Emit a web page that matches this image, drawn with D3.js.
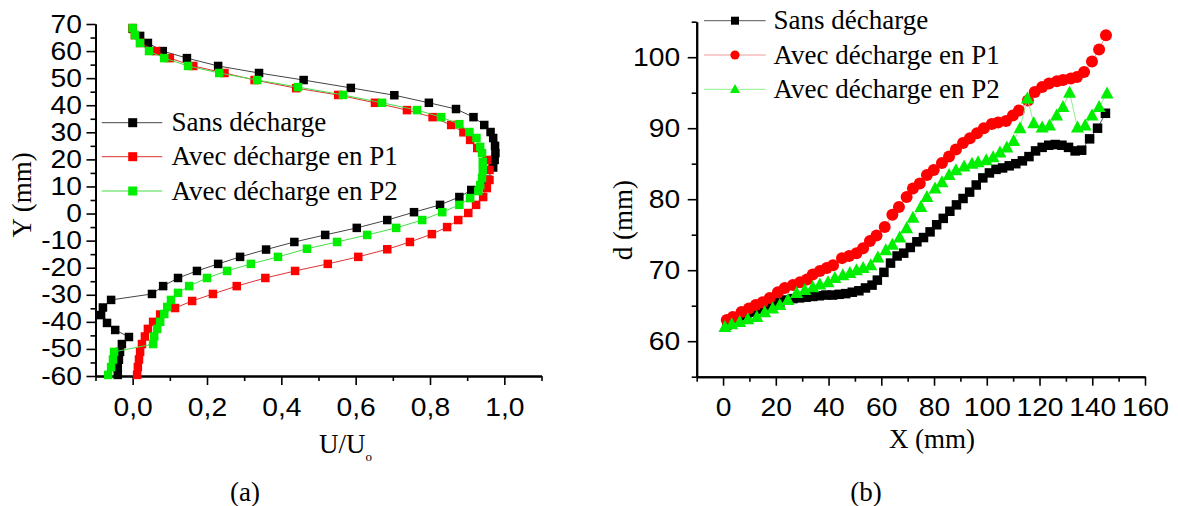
<!DOCTYPE html>
<html>
<head>
<meta charset="utf-8">
<script src="https://cdn.jsdelivr.net/npm/d3@7"></script>
<style>
  html, body { margin: 0; padding: 0; background: #fff; }
  svg { display: block; }
  .tick text { font-family: "Liberation Sans", Arial, sans-serif; font-size: 25px; fill: #000; }
  .serif { font-family: "Liberation Serif", "Times New Roman", serif; fill: #000; }
</style>
</head>
<body>
<svg id="chart" width="1178" height="506"></svg>
<script>
// ---------- DATA: panel (a) U/Uo vs Y (mm) ----------
const seriesNames = ["Sans décharge", "Avec décharge en P1", "Avec décharge en P2"];

const sansA = [[0.0,68.2],[0.02,65.6],[0.041,63],[0.081,60],[0.146,57.4],[0.23,54.5],[0.34,51.9],[0.46,49.3],[0.587,46.4],[0.704,43.7],[0.797,40.9],[0.87,38.6],[0.917,35.6],[0.946,32.7],[0.963,30.1],[0.97,27.9],[0.975,25],[0.976,22.3],[0.974,19.8],[0.97,17],[0.955,12.5],[0.911,8.7],[0.879,6.1],[0.827,3.2],[0.757,0.5],[0.685,-2.4],[0.603,-5.3],[0.518,-7.9],[0.435,-10.5],[0.359,-13.3],[0.289,-16],[0.23,-18.6],[0.173,-21.2],[0.122,-23.8],[0.082,-26.8],[0.052,-29.7],[-0.058,-31.9],[-0.08,-34.7],[-0.085,-37.5],[-0.069,-40.4],[-0.047,-43],[-0.01,-45.6],[-0.029,-48.2],[-0.034,-51.1],[-0.037,-54],[-0.04,-57],[-0.04,-59.6]];

const p1A = [[0.0,68.5],[0.006,65.9],[0.02,63],[0.063,60],[0.1,57.4],[0.163,54.5],[0.247,51.9],[0.328,49.3],[0.44,46.3],[0.553,43.8],[0.652,40.9],[0.738,38.2],[0.807,35.6],[0.857,32.7],[0.89,30],[0.908,27.2],[0.927,24.2],[0.954,19.8],[0.96,16.1],[0.96,12.4],[0.953,9.4],[0.943,6.1],[0.924,3.2],[0.903,0.2],[0.876,-2.4],[0.846,-5],[0.805,-7.6],[0.746,-10.5],[0.685,-13.2],[0.607,-16],[0.525,-18.6],[0.437,-21.2],[0.357,-23.8],[0.28,-26.8],[0.216,-29.7],[0.16,-32.3],[0.114,-34.9],[0.074,-37.3],[0.055,-40],[0.041,-42.6],[0.033,-45.4],[0.025,-48.2],[0.02,-51.1],[0.017,-53.9],[0.014,-56.7],[0.012,-59.6]];

const p2A = [[0.0,68.5],[0.006,65.9],[0.02,63],[0.044,60],[0.085,57.4],[0.149,54.5],[0.233,51.9],[0.335,49.3],[0.445,46.7],[0.566,43.8],[0.671,40.9],[0.765,38.2],[0.83,35.6],[0.879,33],[0.906,30.1],[0.925,27.9],[0.935,24.6],[0.94,22.3],[0.942,19],[0.942,16.1],[0.94,13.1],[0.935,10.5],[0.93,8.3],[0.908,5.7],[0.879,3.2],[0.833,0.5],[0.779,-2.4],[0.709,-5.3],[0.631,-7.9],[0.55,-10.5],[0.469,-13],[0.391,-16],[0.318,-18.6],[0.254,-21.2],[0.2,-23.8],[0.152,-26.8],[0.122,-29.3],[0.103,-31.9],[0.093,-34.5],[0.085,-37.1],[0.074,-40],[0.066,-42.6],[0.058,-45.4],[0.055,-48.2],[-0.05,-51.1],[-0.053,-53.9],[-0.058,-56.7],[-0.066,-59.6]];

// ---------- DATA: panel (b) X (mm) vs d (mm) ----------
const sansB = [[1.5,62.3],[4,62.8],[6.5,63.2],[9,63.7],[11.5,64.1],[14,64.5],[16.5,64.9],[19,65.2],[21.5,65.5],[24,65.8],[26.5,66],[29,66.1],[31.5,66.2],[34,66.3],[36.5,66.4],[39,66.5],[41.5,66.5],[44,66.6],[46.5,66.7],[49,66.9],[51.5,67.1],[54,67.5],[56.5,67.9],[58.5,68.6],[61,69.7],[63.5,71],[66,72],[68.5,72.4],[71,73.2],[73.5,74],[76,74.6],[78.5,75.4],[81,76.4],[83.5,77.3],[86,78.3],[88.5,79.2],[91,80.1],[93.5,81],[96,82],[98.5,83],[101,83.7],[103.5,84.2],[106,84.4],[108.5,84.7],[111,85],[113.5,85.4],[116,86],[118.5,86.8],[121,87.3],[123.5,87.6],[126,87.7],[128.5,87.6],[131,87.3],[133.5,86.8],[136,86.9],[139,88.5],[142,90],[145,92.1]];

const p1B = [[1.4,63],[3.7,63.4],[7,64.1],[9.8,64.6],[12.4,65.1],[15,65.5],[17.7,66.1],[20.8,66.9],[23.4,67.5],[26.5,67.9],[29.2,68.3],[31.8,68.7],[34,69.4],[36.7,69.9],[39.3,70.3],[41.7,70.7],[45.1,71.7],[47.8,72],[50.6,72.4],[53.1,73.1],[55.7,74.1],[58.2,74.9],[61.3,76.1],[64.2,77.8],[66.7,78.9],[69.6,80.3],[72,81.5],[74.6,82.2],[77.3,83.4],[79.9,84.1],[83,85.1],[85.7,86],[88.3,87],[91,87.9],[93.6,88.6],[96.3,89.3],[98.9,90],[101.9,90.6],[104.3,90.8],[107.3,91],[109.9,91.8],[112.2,92.5],[115.6,93.9],[118.2,95.1],[121,95.8],[123.6,96.3],[126.6,96.6],[128.9,96.8],[131.9,97],[134.2,97.2],[136.9,97.9],[139.9,99.4],[142.6,101.1],[145.2,103.1]];

const p2B = [[0.7,62],[3.3,62.4],[6.3,62.7],[9.4,63.1],[12.8,63.4],[15.8,64.1],[18.8,64.6],[21.5,65.1],[24.6,65.8],[27.9,66.8],[31,67.2],[34,67.6],[36.7,68],[39.8,68.3],[42.4,68.9],[45.4,69.3],[48.1,69.6],[50.6,70],[53.1,70.3],[56,70.7],[58.7,71.8],[61.7,72.8],[64.2,73.6],[67,74.6],[69.6,75.9],[72,77.4],[75,78.9],[77.3,80.3],[80.4,81.5],[83,82.4],[85.7,83.4],[88.3,84.1],[91.4,84.6],[94.4,85],[96.7,85.2],[99.8,85.5],[102.4,85.9],[105,86.6],[107.6,87.3],[110.2,88.2],[112.6,90],[115.4,94.2],[117.8,90.7],[121,90.1],[123.8,90.4],[126.5,91.8],[128.9,93],[131.4,95],[134.4,90.1],[137.3,90.4],[139.9,91.8],[142.6,93],[145.6,94.9]];

// ---------- Tick values ----------
const aXMajor = [0, 0.2, 0.4, 0.6, 0.8, 1.0];
const aXMinor = [-0.1, 0.1, 0.3, 0.5, 0.7, 0.9, 1.1];
const aYMajor = [-60, -50, -40, -30, -20, -10, 0, 10, 20, 30, 40, 50, 60, 70];
const aYMinor = [-55, -45, -35, -25, -15, -5, 5, 15, 25, 35, 45, 55, 65];
const bXMajor = [0, 20, 40, 60, 80, 100, 120, 140, 160];
const bXMinor = [-10, 10, 30, 50, 70, 90, 110, 130, 150];
const bYMajor = [60, 70, 80, 90, 100];
const bYMinor = [55, 65, 75, 85, 95, 105];

// ---------- Styles ----------
const markColors = ["#000000", "#ff0000", "#00ee00"];
const lineColorsA = ["#444444", "#dd3333", "#44dd44"];
const lineColorsB = ["#555555", "#f49a9a", "#8ef08e"];

const svg = d3.select("#chart");
svg.append("rect").attr("width", 1178).attr("height", 506).attr("fill", "#fff");

// Scales
const xA = d3.scaleLinear().domain([-0.1, 1.1]).range([95.5, 541.5]);
const yA = d3.scaleLinear().domain([-60, 70]).range([376, 24]);
const xB = d3.scaleLinear().domain([-10, 160]).range([696.7, 1145]);
const yB = d3.scaleLinear().domain([55, 105]).range([376.7, 21.7]);

const stretch = 1.13;
function styleAxis(g) {
  g.select(".domain").attr("stroke", "#000").attr("stroke-width", 2);
  g.selectAll(".tick line").attr("stroke", "#000").attr("stroke-width", 1.6);
  g.selectAll(".tick text").each(function () {
    const t = d3.select(this);
    const x = +t.attr("x") || 0;
    const y = +t.attr("y") || 0;
    t.attr("x", 0).attr("y", 0).attr("transform", `translate(${x},${y}) scale(${stretch},1)`);
  });
}

function drawAxes(x, y, xMaj, xMin, yMaj, yMin, xFmt, yPad) {
  const y0 = y.range()[0], x0 = x.range()[0];
  const gxm = svg.append("g").attr("transform", `translate(0,${y0})`)
    .call(d3.axisBottom(x).tickValues(xMin).tickSize(5).tickSizeOuter(0).tickFormat(""));
  styleAxis(gxm);
  const gx = svg.append("g").attr("transform", `translate(0,${y0})`)
    .call(d3.axisBottom(x).tickValues(xMaj).tickSize(9).tickSizeOuter(0).tickPadding(13).tickFormat(xFmt));
  styleAxis(gx);
  const gym = svg.append("g").attr("transform", `translate(${x0},0)`)
    .call(d3.axisLeft(y).tickValues(yMin).tickSize(5).tickSizeOuter(0).tickFormat(""));
  styleAxis(gym);
  const gy = svg.append("g").attr("transform", `translate(${x0},0)`)
    .call(d3.axisLeft(y).tickValues(yMaj).tickSize(9).tickSizeOuter(0).tickPadding(yPad).tickFormat(d => String(d)));
  styleAxis(gy);
}

drawAxes(xA, yA, aXMajor, aXMinor, aYMajor, aYMinor, d => d.toFixed(1).replace(".", ","), 4.5);
drawAxes(xB, yB, bXMajor, bXMinor, bYMajor, bYMinor, d => String(d), 7.5);

// Marker helpers
function square(g, cx, cy, s, color) {
  g.append("rect").attr("x", cx - s / 2).attr("y", cy - s / 2).attr("width", s).attr("height", s).attr("fill", color);
}
function circle(g, cx, cy, r, color) {
  g.append("circle").attr("cx", cx).attr("cy", cy).attr("r", r).attr("fill", color);
}
function triangle(g, cx, cy, w, h, color) {
  g.append("path").attr("d", `M${cx},${cy - h * 0.58}L${cx + w / 2},${cy + h * 0.42}L${cx - w / 2},${cy + h * 0.42}Z`).attr("fill", color);
}

// ---------- Panel (a) ----------
const lineA = d3.line().x(d => xA(d[0])).y(d => yA(d[1]));
const dataA = [sansA, p1A, p2A];
dataA.forEach((s, i) => {
  const g = svg.append("g");
  g.append("path").datum(s).attr("d", lineA).attr("fill", "none").attr("stroke", lineColorsA[i]).attr("stroke-width", 1);
  s.forEach(d => square(g, xA(d[0]), yA(d[1]), 8.5, markColors[i]));
});

// Legend (a)
const legAy = [122.7, 156.7, 191];
seriesNames.forEach((n, i) => {
  const g = svg.append("g");
  g.append("line").attr("x1", 101.7).attr("x2", 162.3).attr("y1", legAy[i]).attr("y2", legAy[i])
    .attr("stroke", lineColorsA[i]).attr("stroke-width", 1);
  square(g, 132.7, legAy[i], 9, markColors[i]);
  g.append("text").attr("class", "serif").attr("x", 171.5).attr("y", legAy[i] + 8.5)
    .attr("font-size", 27).text(n);
});

// ---------- Panel (b) ----------
const lineB = d3.line().x(d => xB(d[0])).y(d => yB(d[1]));
const dataB = [sansB, p1B, p2B];
dataB.forEach((s, i) => {
  const g = svg.append("g");
  g.append("path").datum(s).attr("d", lineB).attr("fill", "none").attr("stroke", lineColorsB[i]).attr("stroke-width", 1);
  s.forEach(d => {
    const cx = xB(d[0]), cy = yB(d[1]);
    if (i === 0) square(g, cx, cy, 9.5, markColors[0]);
    else if (i === 1) circle(g, cx, cy, 6, markColors[1]);
    else triangle(g, cx, cy, 13, 12, markColors[2]);
  });
});

// Legend (b)
const legBy = [20.7, 55, 89.3];
seriesNames.forEach((n, i) => {
  const g = svg.append("g");
  g.append("line").attr("x1", 704).attr("x2", 765.7).attr("y1", legBy[i]).attr("y2", legBy[i])
    .attr("stroke", lineColorsB[i]).attr("stroke-width", 1);
  if (i === 0) square(g, 735, legBy[i], 8, markColors[0]);
  else if (i === 1) circle(g, 735, legBy[i], 4.6, markColors[1]);
  else triangle(g, 735, legBy[i], 10, 9, markColors[2]);
  g.append("text").attr("class", "serif").attr("x", 773.5).attr("y", legBy[i] + 8.5)
    .attr("font-size", 27).text(n);
});

// ---------- Axis titles ----------
svg.append("text").attr("class", "serif").attr("font-size", 27)
  .attr("transform", "translate(31,195) rotate(-90)").attr("text-anchor", "middle").text("Y (mm)");
const ut = svg.append("text").attr("class", "serif").attr("font-size", 27).attr("x", 319).attr("y", 453);
ut.append("tspan").text("U/U");
ut.append("tspan").attr("font-size", 13).attr("dy", 8).text("o");

svg.append("text").attr("class", "serif").attr("font-size", 27)
  .attr("transform", "translate(632,220) rotate(-90)").attr("text-anchor", "middle").text("d (mm)");
svg.append("text").attr("class", "serif").attr("font-size", 27)
  .attr("x", 932).attr("y", 448).attr("text-anchor", "middle").text("X (mm)");

svg.append("text").attr("class", "serif").attr("font-size", 27)
  .attr("x", 245).attr("y", 501).attr("text-anchor", "middle").text("(a)");
svg.append("text").attr("class", "serif").attr("font-size", 27)
  .attr("x", 866).attr("y", 501).attr("text-anchor", "middle").text("(b)");
</script>
</body>
</html>
